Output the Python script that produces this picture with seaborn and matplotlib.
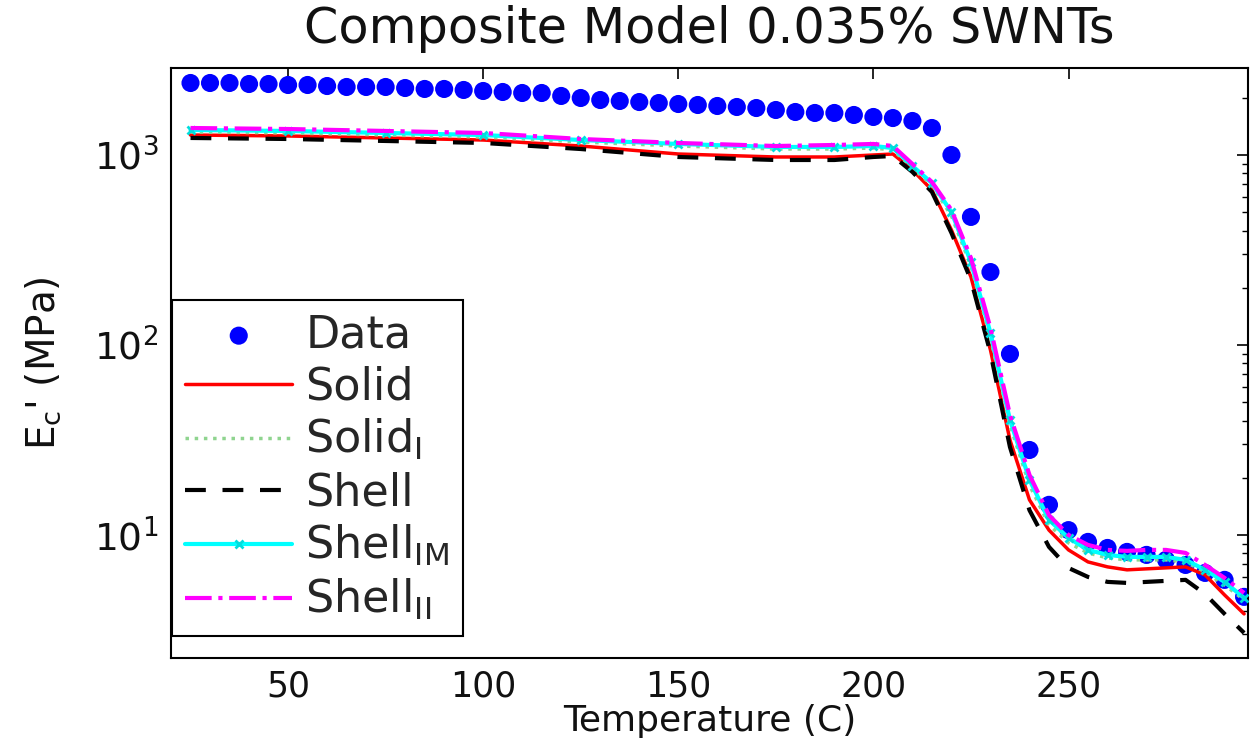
import matplotlib
matplotlib.use("Agg")
import matplotlib.pyplot as plt
import seaborn as sns
from matplotlib.ticker import LogLocator, LogFormatterMathtext, NullFormatter, FixedLocator

# ---------------- data ----------------
data_T = [25, 30, 35, 40, 45, 50, 55, 60, 65, 70, 75, 80, 85, 90, 95, 100, 105, 110, 115, 120,
          125, 130, 135, 140, 145, 150, 155, 160, 165, 170, 175, 180, 185, 190, 195, 200, 205,
          210, 215, 220, 225, 230, 235, 240, 245, 250, 255, 260, 265, 270, 275, 280, 285, 290, 295]
data_E = [2393, 2393, 2393, 2364, 2364, 2336, 2336, 2307, 2280, 2280, 2280, 2252, 2226, 2226,
          2199, 2172, 2146, 2120, 2120, 2045, 1995, 1947, 1924, 1900, 1877, 1855, 1833, 1811,
          1789, 1767, 1725, 1684, 1664, 1664, 1624, 1585, 1565, 1510, 1387, 1000, 472, 242,
          89.7, 28.0, 14.4, 10.6, 9.19, 8.54, 8.14, 7.85, 7.39, 6.95, 6.31, 5.80, 4.72]

model_T = [25, 50, 75, 100, 125, 150, 175, 190, 200, 205, 210, 215, 220, 225, 230, 235, 240,
           245, 250, 255, 260, 265, 270, 275, 280, 285, 290, 295]
solid_E = [1274, 1259, 1229, 1199, 1115, 1012, 976, 976, 1000, 1012, 834, 654, 403, 228, 94.1,
           31.6, 15.3, 10.6, 8.34, 7.21, 6.79, 6.55, 6.63, 6.71, 6.79, 6.16, 4.83, 3.84]
solid_I_E = [1322, 1306, 1274, 1243, 1171, 1115, 1075, 1075, 1088, 1062, 854, 695, 478, 260, 108.8,
             37.9, 18.3, 11.3, 9.08, 8.04, 7.57, 7.39, 7.39, 7.39, 7.21, 6.39, 5.45, 4.55]
shell_E = [1229, 1214, 1185, 1157, 1075, 976, 941, 941, 976, 988, 814, 639, 389, 219.8, 90.8,
           29.0, 13.5, 8.65, 6.70, 6.01, 5.66, 5.59, 5.66, 5.73, 5.80, 4.89, 3.84, 3.05]
shell_IM_E = [1354, 1338, 1306, 1274, 1199, 1143, 1102, 1102, 1115, 1088, 875, 712, 501, 273, 115.7,
              40.3, 19.5, 12.0, 9.64, 8.34, 7.85, 7.66, 7.66, 7.66, 7.39, 6.55, 5.66, 4.66]
shell_II_E = [1387, 1370, 1338, 1306, 1214, 1157, 1115, 1129, 1143, 1115, 897, 721, 514, 287, 122.9,
              42.8, 20.7, 12.7, 10.0, 8.86, 8.34, 8.24, 8.34, 8.34, 8.04, 6.95, 5.94, 4.95]

x_ticks = [50, 100, 150, 200, 250]
y_ticks = [10, 100, 1000]

title = "Composite Model 0.035% SWNTs"
xlabel = "Temperature (C)"
ylabel = "E$_c$' (MPa)"
labels = ["Data", "Solid", "Solid$_I$", "Shell", "Shell$_{IM}$", "Shell$_{II}$"]

# ---------------- style ----------------
sns.set_theme(style="white")
plt.rcParams['font.family'] = ['DejaVu Sans']
plt.rcParams['mathtext.default'] = 'regular'

fig = plt.figure(figsize=(12.5, 7.42), dpi=100)
fig.patch.set_facecolor('white')
ax = fig.add_axes([171 / 1250, 1 - 658 / 742, (1248 - 171) / 1250, (658 - 68) / 742])
ax.set_facecolor('white')

sns.scatterplot(x=data_T, y=data_E, ax=ax, color='#0000ff', s=170, edgecolor='none',
                label=labels[0], zorder=2)
sns.lineplot(x=model_T, y=solid_E, ax=ax, color='#ff0000', linewidth=2.5, linestyle='-',
             label=labels[1], zorder=3)
sns.lineplot(x=model_T, y=solid_I_E, ax=ax, color='#8fd48f', linewidth=2.5, linestyle=':',
             label=labels[2], zorder=3)
sns.lineplot(x=model_T, y=shell_E, ax=ax, color='black', linewidth=3, linestyle=(0, (5, 4)),
             label=labels[3], zorder=3)
sns.lineplot(x=model_T, y=shell_IM_E, ax=ax, color='#00ffff', linewidth=3, linestyle='-',
             marker='x', markersize=6, markeredgewidth=2, markeredgecolor='#00dddd',
             markerfacecolor='#00ffff', label=labels[4], zorder=3)
sns.lineplot(x=model_T, y=shell_II_E, ax=ax, color='#ff00ff', linewidth=3, linestyle='-.',
             label=labels[5], zorder=4)

ax.set_yscale('log')
ax.set_xlim(20, 296)
ax.set_ylim(2.25, 2870)
ax.xaxis.set_major_locator(FixedLocator(x_ticks))
ax.yaxis.set_major_locator(FixedLocator(y_ticks))
ax.yaxis.set_major_formatter(LogFormatterMathtext())
ax.yaxis.set_minor_locator(LogLocator(base=10, subs=range(2, 10)))
ax.yaxis.set_minor_formatter(NullFormatter())

ax.tick_params(axis='both', which='both', direction='in', top=True, right=True,
               colors='black', labelcolor='#111111')
ax.tick_params(axis='both', which='major', length=8, width=1.2)
ax.tick_params(axis='x', which='major', pad=8, labelsize=25)
ax.tick_params(axis='y', which='major', pad=9, labelsize=27)
ax.tick_params(axis='y', which='minor', length=4, width=1)
for sp in ax.spines.values():
    sp.set_color('black')
    sp.set_linewidth(1.5)
    sp.set_visible(True)

ax.set_title(title, fontsize=35.5, pad=18, color='#111111')
ax.set_xlabel(xlabel, fontsize=26, labelpad=1, color='#111111')
ax.set_ylabel(ylabel, fontsize=28, labelpad=22, color='#111111')

leg = ax.legend(loc='upper left', bbox_to_anchor=(0.001, (658 - 300) / (658 - 68)),
                borderaxespad=0, fontsize=32, frameon=True, fancybox=False,
                edgecolor='black', framealpha=1, handlelength=2.4, handletextpad=0.3,
                labelspacing=0.2, borderpad=0.3)
leg.get_frame().set_linewidth(1.5)

fig.savefig("out.png", dpi=100, facecolor='white')
